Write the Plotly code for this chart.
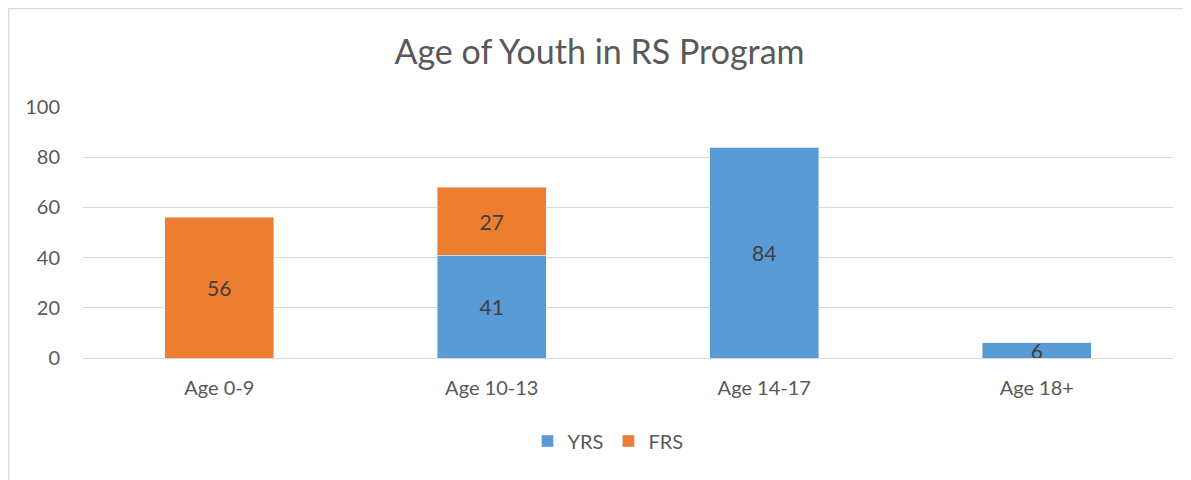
import plotly.graph_objects as go

categories = ["Age 0-9", "Age 10-13", "Age 14-17", "Age 18+"]
yrs = [0, 41, 84, 6]
frs = [56, 27, 0, 0]
y_ticks = [0, 20, 40, 60, 80, 100]

OFF = 8  # page body margin
W, H = 1191 - OFF, 480 - OFF
L, R, T, B = 83 - OFF, 18, 107 - OFF, 122
pw, ph = W - L - R, H - T - B

def lbl(vals):
    return [str(v) if v else "" for v in vals]

fig = go.Figure()
fig.add_trace(go.Bar(name="YRS", x=categories, y=yrs, text=lbl(yrs),
                     marker_color="#5B9BD5", textposition="inside",
                     insidetextanchor="middle", textangle=0,
                     textfont=dict(color="#404040", size=21)))
fig.add_trace(go.Bar(name="FRS", x=categories, y=frs, text=lbl(frs),
                     marker_color="#ED7D31", textposition="inside",
                     insidetextanchor="middle", textangle=0,
                     textfont=dict(color="#404040", size=21)))

fig.update_layout(
    width=W, height=H,
    barmode="stack", bargap=0.6,
    margin=dict(l=L, r=R, t=T, b=B),
    paper_bgcolor="white", plot_bgcolor="white",
    font=dict(family="Lato, Open Sans, sans-serif", color="#595959", size=20),
    title=dict(text="Age of Youth in RS Program", x=0.5, xanchor="center",
               y=1 - (52 - OFF) / H, yanchor="middle",
               font=dict(size=34, color="#595959")),
    uniformtext=dict(minsize=21, mode="show"),
    showlegend=True,
    legend=dict(orientation="h", x=0.5 - 20 / pw, xanchor="center",
                y=-(441 - OFF - (T + ph)) / ph, yanchor="middle",
                font=dict(size=20, color="#595959"),
                traceorder="normal", itemwidth=30),
    yaxis=dict(range=[0, 100], tickvals=y_ticks, showgrid=True,
               gridcolor="#D9D9D9", gridwidth=1, zeroline=True,
               zerolinecolor="#D9D9D9", zerolinewidth=1, ticks="",
               ticklabelstandoff=22, tickfont=dict(size=20, color="#595959")),
    xaxis=dict(showgrid=False, ticks="", showline=False,
               ticklabelstandoff=16,
               tickfont=dict(size=20, color="#595959")),
    shapes=[dict(type="rect", xref="paper", yref="paper",
                 x0=(0.5 - L) / pw, x1=(W + 5 - L) / pw,
                 y0=-(H + 5 - T - ph) / ph, y1=1 + (T - 0.5) / ph,
                 line=dict(color="#D9D9D9", width=1.5), layer="below")],
)

fig.write_html("out.html")
